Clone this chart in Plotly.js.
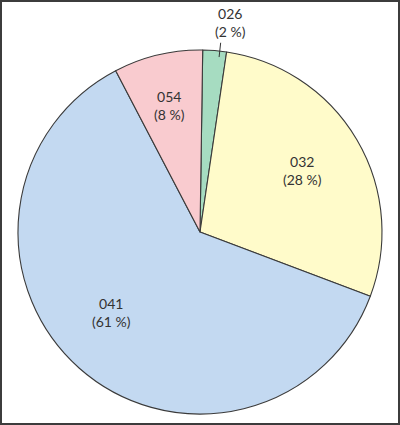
<!DOCTYPE html>
<html><head><meta charset="utf-8">
<script src="https://cdn.plot.ly/plotly-3.0.1.min.js"></script>
<style>
html,body{margin:0;padding:0;background:#fff}
#wrap{position:relative;width:400px;height:425px}
#chart{width:400px;height:425px}
#frame{position:absolute;left:0;top:0;width:400px;height:425px;box-sizing:border-box;border:2px solid #3c3c3c;pointer-events:none}
</style></head><body>
<div id="wrap"><div id="chart"></div><div id="frame"></div></div>
<script>
// Data
const categories = ['026', '032', '041', '054'];
const values = [2.1, 28.4, 61.6, 7.9];
const percentLabels = ['2\u00a0%', '28\u00a0%', '61\u00a0%', '8\u00a0%'];

// Styles
const colors = ['#a6dcc1', '#fffbca', '#c3d9f1', '#f9cbcf'];
const rotationDeg = 0.85;
// per label: radius factor (1 = pie edge) and angle tweak (deg)
const labelPlace = [
  {rf: 1.165, da: 3.6},
  {rf: 0.66, da: -0.5},
  {rf: 0.654, da: 6.2},
  {rf: 0.718, da: -0.3}
];
const leader = {index: 0, r0: 0.967, r1: 1.046, da: 1.6};

const total = values.reduce((a, b) => a + b, 0);
let cum = 0;
const midAngles = values.map(v => {
  const start = cum;
  cum += v;
  return rotationDeg + 360 * (start + v / 2) / total;
});

function polar(rf, deg) {
  const t = deg * Math.PI / 180;
  return {x: 0.5 + 0.5 * rf * Math.sin(t), y: 0.5 + 0.5 * rf * Math.cos(t)};
}

const annotations = categories.map((c, i) => {
  const p = polar(labelPlace[i].rf, midAngles[i] + labelPlace[i].da);
  return {
    xref: 'paper', yref: 'paper', x: p.x, y: p.y,
    xanchor: 'center', yanchor: 'middle', showarrow: false,
    text: c + '<br>(' + percentLabels[i] + ')',
    font: {family: 'Lato, sans-serif', size: 14, color: '#333'}
  };
});

const la = midAngles[leader.index] + leader.da;
const p0 = polar(leader.r0, la), p1 = polar(leader.r1, la);
const shapes = [{
  type: 'line', xref: 'paper', yref: 'paper',
  x0: p0.x, y0: p0.y, x1: p1.x, y1: p1.y,
  line: {color: '#333', width: 1}
}];

const trace = {
  type: 'pie',
  labels: categories,
  values: values,
  sort: false,
  direction: 'clockwise',
  rotation: rotationDeg,
  textinfo: 'none',
  hoverinfo: 'label+percent',
  marker: {colors: colors, line: {color: '#3a3a3a', width: 1.1}},
  showlegend: false
};

const layout = {
  width: 400, height: 425,
  margin: {l: 18, r: 18, t: 50, b: 11, pad: 0},
  paper_bgcolor: '#fff',
  annotations: annotations,
  shapes: shapes,
  showlegend: false
};

Plotly.newPlot('chart', [trace], layout, {displayModeBar: false, staticPlot: true});
</script>
</body></html>
